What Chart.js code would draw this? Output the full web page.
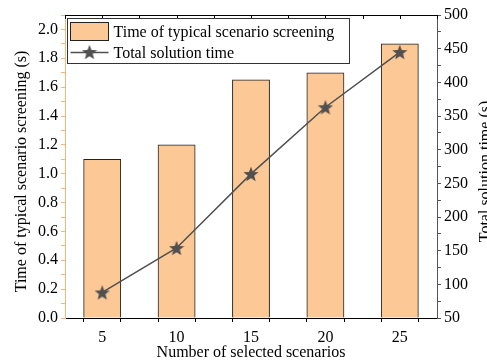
<!DOCTYPE html>
<html>
<head>
<meta charset="utf-8">
<script src="https://cdn.jsdelivr.net/npm/chart.js@4/dist/chart.umd.min.js"></script>
<style>
  body { margin: 0; background: #fff; }
  canvas { display: block; }
</style>
</head>
<body>
<canvas id="scenarioChart" width="487" height="362"></canvas>
<script>
// data
const scenarioCounts = [5, 10, 15, 20, 25];
const screeningTime = [1.1, 1.2, 1.65, 1.7, 1.9];     // s, left axis
const totalSolutionTime = [88, 154, 264, 363, 445];   // s, right axis

const barLabel = "Time of typical scenario screening";
const lineLabel = "Total solution time";
const leftTitle = "Time of typical scenario screening (s)";
const rightTitle = "Total solution time (s)";
const xTitle = "Number of selected scenarios";

const barColor = "#FCC896";
const axisOrange = "#F8B47A";
const lineColor = "#505050";
const fontFamily = "'Liberation Serif', 'Times New Roman', serif";

// filled five point star used as the marker
function makeStar(size, color) {
    const c = document.createElement("canvas");
    c.width = size; c.height = size;
    const g = c.getContext("2d");
    const cx = size / 2, cy = size / 2 + 0.8;
    const outer = size / 2, inner = outer * 0.42;
    g.beginPath();
    for (let i = 0; i < 10; i++) {
        const r = i % 2 === 0 ? outer : inner;
        const a = -Math.PI / 2 + i * Math.PI / 5;
        const px = cx + r * Math.cos(a), py = cy + r * Math.sin(a);
        if (i === 0) g.moveTo(px, py); else g.lineTo(px, py);
    }
    g.closePath();
    g.fillStyle = color;
    g.fill();
    return c;
}
const star = makeStar(16, lineColor);

// top frame with inward ticks, legend box, side titles
const decorations = {
    id: "decorations",
    afterDraw(chart) {
        const ctx = chart.ctx;
        const ca = chart.chartArea;
        const xs = chart.scales.x;
        ctx.save();
        ctx.strokeStyle = "#000";
        ctx.lineWidth = 1;
        ctx.beginPath();
        ctx.moveTo(ca.left, ca.top + 0.5);
        ctx.lineTo(ca.right, ca.top + 0.5);
        xs.ticks.forEach(t => {
            const px = Math.round(xs.getPixelForValue(t.value)) + 0.5;
            ctx.moveTo(px, ca.top);
            ctx.lineTo(px, ca.top + 4);
        });
        ctx.stroke();

        // legend
        const lx = ca.left + 2.5, ly = ca.top + 3.5, lw = 282, lh = 45;
        ctx.fillStyle = "#fff";
        ctx.fillRect(lx, ly, lw, lh);
        ctx.strokeStyle = "#333";
        ctx.strokeRect(lx, ly, lw, lh);
        ctx.fillStyle = barColor;
        ctx.fillRect(lx + 3, ly + 4, 38, 18);
        ctx.strokeStyle = "#222";
        ctx.strokeRect(lx + 3, ly + 4, 38, 18);
        ctx.strokeStyle = lineColor;
        ctx.lineWidth = 1.5;
        ctx.beginPath();
        ctx.moveTo(lx + 3, ly + 34);
        ctx.lineTo(lx + 41, ly + 34);
        ctx.stroke();
        ctx.drawImage(star, lx + 22 - 8, ly + 34 - 8.5);
        ctx.fillStyle = "#000";
        ctx.font = "16px " + fontFamily;
        ctx.textBaseline = "middle";
        ctx.textAlign = "left";
        ctx.fillText(barLabel, lx + 46, ly + 14);
        ctx.fillText(lineLabel, lx + 46, ly + 35);

        // side titles, both reading bottom to top
        const midY = (ca.top + ca.bottom) / 2 + 5;
        ctx.textAlign = "center";
        ctx.save();
        ctx.translate(22, midY);
        ctx.rotate(-Math.PI / 2);
        ctx.fillText(leftTitle, 0, 0);
        ctx.restore();
        ctx.translate(chart.width - 1, midY);
        ctx.rotate(-Math.PI / 2);
        ctx.fillText(rightTitle, 0, 0);
        ctx.restore();
    }
};

const ctx = document.getElementById("scenarioChart").getContext("2d");
new Chart(ctx, {
    type: "bar",
    data: {
        datasets: [
            {
                type: "line",
                label: lineLabel,
                data: scenarioCounts.map((x, i) => ({ x: x, y: totalSolutionTime[i] })),
                yAxisID: "y1",
                borderColor: lineColor,
                borderWidth: 1.5,
                pointStyle: star,
                pointRadius: 8,
                order: 0
            },
            {
                type: "bar",
                label: barLabel,
                data: scenarioCounts.map((x, i) => ({ x: x, y: screeningTime[i] })),
                yAxisID: "y",
                backgroundColor: barColor,
                borderColor: "#222",
                borderWidth: 1,
                barPercentage: 1.0,
                categoryPercentage: 1.0,
                order: 1
            }
        ]
    },
    options: {
        responsive: false,
        animation: false,
        devicePixelRatio: 1,
        layout: { padding: { top: 15, left: 0, right: 0, bottom: 0 } },
        plugins: {
            legend: { display: false },
            tooltip: { enabled: false }
        },
        scales: {
            x: {
                type: "linear",
                offset: false,
                min: 2.5,
                max: 27.5,
                afterFit: s => { s.height = 44; },
                border: { color: "#000", width: 1 },
                grid: { drawOnChartArea: false, tickLength: 4, color: "#000" },
                ticks: {
                    stepSize: 2.5,
                    autoSkip: false,
                    maxRotation: 0,
                    padding: 6,
                    color: "#000",
                    font: { family: fontFamily, size: 16 },
                    callback: v => (v % 5 === 0 ? String(v) : "")
                },
                title: {
                    display: true,
                    text: xTitle,
                    color: "#000",
                    font: { family: fontFamily, size: 16 },
                    padding: { top: 0, bottom: 0 }
                }
            },
            y: {
                position: "left",
                min: 0,
                max: 2.1,
                afterFit: s => { s.width = 65; },
                border: { color: axisOrange, width: 1 },
                grid: { drawOnChartArea: false, tickLength: 4, color: axisOrange },
                ticks: {
                    stepSize: 0.1,
                    autoSkip: false,
                    padding: 3,
                    color: "#000",
                    font: { family: fontFamily, size: 16 },
                    callback: v => (Math.round(v * 10) % 2 === 0 ? v.toFixed(1) : "")
                }
            },
            y1: {
                position: "right",
                min: 50,
                max: 500,
                afterFit: s => { s.width = 50; },
                border: { color: "#555", width: 1 },
                grid: { drawOnChartArea: false, tickLength: 4, color: "#555" },
                ticks: {
                    stepSize: 25,
                    autoSkip: false,
                    padding: 3,
                    color: "#000",
                    font: { family: fontFamily, size: 16 },
                    callback: v => (v % 50 === 0 ? String(v) : "")
                }
            }
        }
    },
    plugins: [decorations]
});
</script>
</body>
</html>
